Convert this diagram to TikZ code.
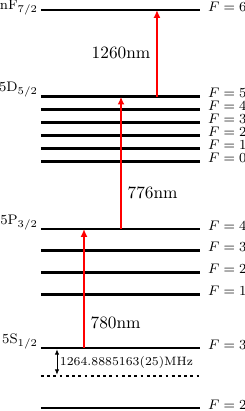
\documentclass[tikz,border=0pt]{standalone}
\usetikzlibrary{arrows.meta}

\tikzset{
    level/.style={ultra thick},
    laser/.style={red, line width=1pt, -{Latex[length=4.5pt,width=4pt]}},
    split/.style={thin, {Latex[length=3pt,width=2.5pt]}-{Latex[length=3pt,width=2.5pt]}, shorten <=0.8pt, shorten >=0.8pt},
    statelabel/.style={anchor=base east, inner sep=1pt, yshift=2.8pt, font=\footnotesize},
    flabel/.style={anchor=base west, inner sep=3.9pt, yshift=-0.6pt, font=\footnotesize}
}

\begin{document}
\begin{tikzpicture}
    \def\xl{0.833}
    \def\xr{4.064}

    \useasboundingbox (0,0) rectangle (4.978,8.352);

    % columns of the arrows
    \coordinate (ColA) at (1.707,0);
    \coordinate (ColB) at (2.459,0);
    \coordinate (ColC) at (3.190,0);
    \coordinate (ColM) at (1.158,0);

    % nF_{7/2}
    \draw[level] (\xl,8.149) coordinate (F6) node[statelabel, yshift=-2.4pt] (nF) {nF$_{7/2}$} -- (\xr,8.149) node[flabel] (F6lab) {$F=6$};

    % 5D_{5/2}
    \draw[level] (\xl,6.387) coordinate (D5) node[statelabel] (nD) {5D$_{5/2}$} -- (\xr,6.387) node[flabel] (D5lab) {$F=5$};
    \draw[level] (\xl,6.123) coordinate (D4) -- (\xr,6.123) node[flabel] (D4lab) {$F=4$};
    \draw[level] (\xl,5.859) coordinate (D3) -- (\xr,5.859) node[flabel] (D3lab) {$F=3$};
    \draw[level] (\xl,5.595) coordinate (D2) -- (\xr,5.595) node[flabel] (D2lab) {$F=2$};
    \draw[level] (\xl,5.331) coordinate (D1) -- (\xr,5.331) node[flabel] (D1lab) {$F=1$};
    \draw[level] (\xl,5.067) coordinate (D0) -- (\xr,5.067) node[flabel] (D0lab) {$F=0$};

    % 5P_{3/2}
    \draw[level] (\xl,3.698) coordinate (P4) node[statelabel] (nP) {5P$_{3/2}$} -- (\xr,3.698) node[flabel] (P4lab) {$F=4$};
    \draw[level] (\xl,3.257) coordinate (P3) -- (\xr,3.257) node[flabel] (P3lab) {$F=3$};
    \draw[level] (\xl,2.816) coordinate (P2) -- (\xr,2.816) node[flabel] (P2lab) {$F=2$};
    \draw[level] (\xl,2.375) coordinate (P1) -- (\xr,2.375) node[flabel] (P1lab) {$F=1$};

    % 5S_{1/2}
    \draw[level] (\xl,1.280) coordinate (S3) node[statelabel] (nS) {5S$_{1/2}$} -- (\xr,1.280) node[flabel] (S3lab) {$F=3$};
    \draw[level, dotted] (\xl,0.711) coordinate (Sc) -- (\xr,0.711);
    \draw[level] (\xl,0.061) coordinate (S2) -- (\xr,0.061) node[flabel] (S2lab) {$F=2$};

    % lasers
    \draw[laser] (S3 -| ColA) -- (P4 -| ColA) node[pos=0.21, right, black] (l780) {780nm};
    \draw[laser] (P4 -| ColB) -- (D5 -| ColB) node[pos=0.27, right, black] (l776) {776nm};
    \draw[laser] (D5 -| ColC) -- (F6 -| ColC) node[midway, left, black] (l1260) {1260nm};

    \draw[split] (S3 -| ColM) -- (Sc -| ColM) node[midway, right, inner sep=1.5pt, font=\scriptsize] (hfs) {1264.8885163(25)MHz};

\end{tikzpicture}
\end{document}
